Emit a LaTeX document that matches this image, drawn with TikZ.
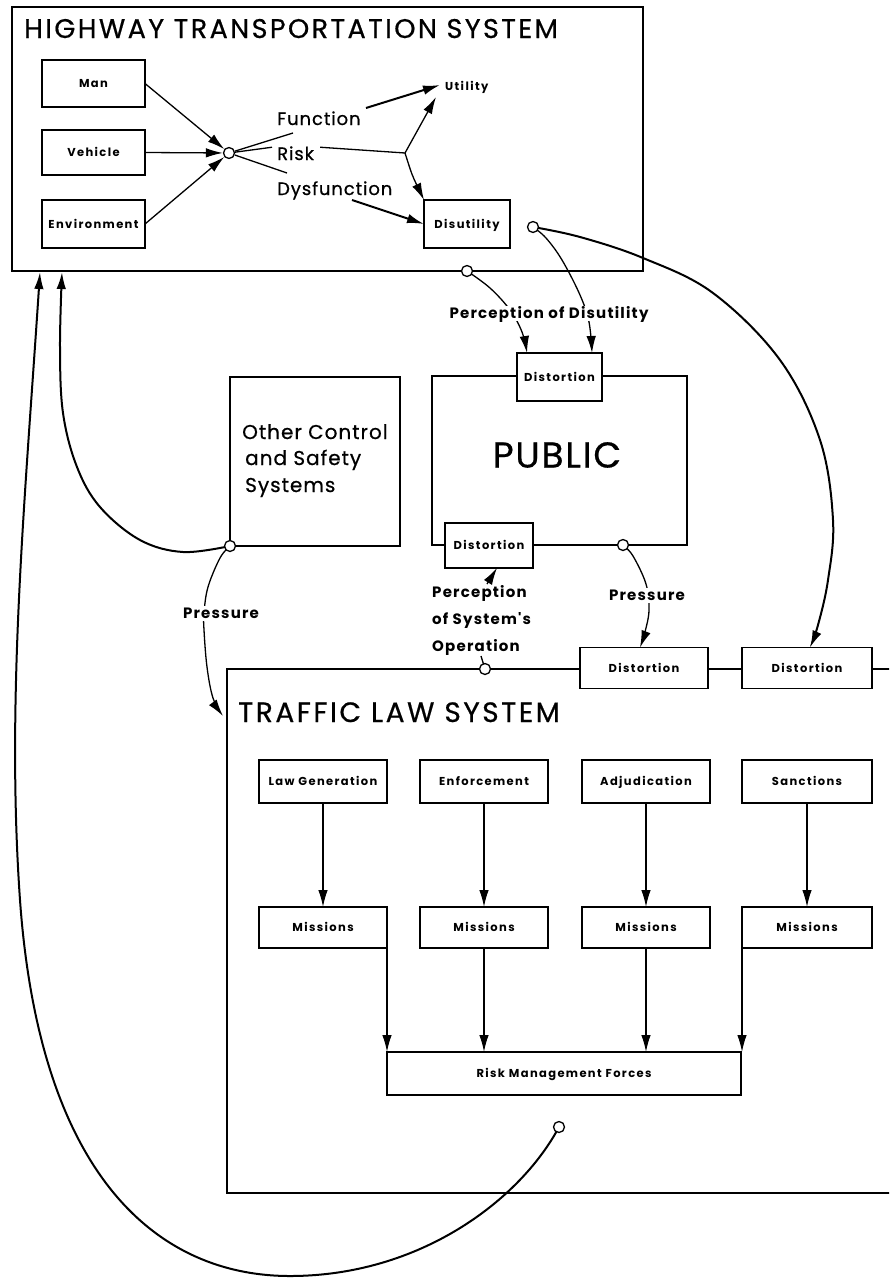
\documentclass[tikz,border=0pt]{standalone}
\usepackage{fontspec}
\setmainfont{Poppins}
\newfontfamily\geo[LetterSpace=5,FakeBold=0.6]{Poppins}
\newfontfamily\geowide[LetterSpace=9,FakeBold=0.6]{Poppins}
\newfontfamily\geolab[LetterSpace=8]{Poppins}
\newfontfamily\geobox[LetterSpace=12]{Poppins}
\usetikzlibrary{arrows.meta,calc}

\newcommand\ttlfont{\geowide\fontsize{27}{31}\selectfont}
\newcommand\tlsfont{\geowide\fontsize{28}{32}\selectfont}
\newcommand\pubfont{\geo\fontsize{36}{40}\selectfont}
\newcommand\midfont{\geo\fontsize{18}{22}\selectfont}
\newcommand\ocsfont{\geo\fontsize{20}{24}\selectfont}
\newcommand\prfont{\geolab\fontsize{15}{18}\selectfont\bfseries}
\newcommand\boxfont{\geobox\fontsize{11.5}{13}\selectfont\bfseries}

\tikzset{
  frame/.style={draw, line width=1.8pt, inner sep=0pt, outer sep=0pt},
  box/.style={draw, line width=1.6pt, fill=white, inner sep=0pt, outer sep=0pt,
    text height=8pt, text depth=0pt, font=\boxfont},
  conn/.style={line width=1.3pt},
  arr/.style={conn, -{Latex[length=17pt,width=9.5pt]}},
  heavy/.style={line width=2pt},
  knot/.style={circle, draw, line width=1.3pt, fill=white,
    minimum size=11pt, inner sep=0pt},
  lbl/.style={inner sep=0pt, font=\midfont},
  cover/.style={fill=white, inner sep=2pt, text height=11pt, text depth=0pt, font=\prfont}
}

\begin{document}
\begin{tikzpicture}[x=1pt,y=-1pt]
\useasboundingbox (0,0) rectangle (889,1282);
\clip (0,0) rectangle (889,1282);

% ---------------- Highway transportation system ----------------
\node[frame, anchor=north west, minimum width=631pt, minimum height=264pt] (hwy) at (12,7) {};
\node[anchor=base west, inner sep=0pt, font=\ttlfont] (hwyt) at (24,38) {HIGHWAY TRANSPORTATION SYSTEM};

\node[box, minimum width=103pt, minimum height=47pt] (man) at (93.5,83.5) {Man};
\node[box, minimum width=103pt, minimum height=45pt] (veh) at (93.5,152.5) {Vehicle};
\node[box, minimum width=103pt, minimum height=48pt] (env) at (93.5,224) {Environment};
\node[knot] (jn) at (229,153) {};

\node[lbl, anchor=base west] (fun) at (277,125) {Function};
\node[lbl, anchor=base west] (risk) at (277,160) {Risk};
\node[lbl, anchor=base west] (dys) at (277,195) {Dysfunction};
\node[anchor=base west, inner sep=0pt, font=\boxfont] (util) at (445,90) {Utility};
\node[box, minimum width=86pt, minimum height=48pt] (dis) at (467,224) {Disutility};

\coordinate (br) at (405,153);
\coordinate (funin) at (293,133);
\coordinate (funout) at (366,108);
\coordinate (utilA) at (440,85);
\coordinate (utilB) at (436,97);
\coordinate (dysin) at (287,173);
\coordinate (dysout) at (352,200);

\draw[arr] (man.east) -- (jn);
\draw[arr] (veh.east) -- (jn);
\draw[arr] (env.east) -- (jn);
\draw[conn] (jn) -- (funin);
\draw[conn] (jn) -- ($(risk.west)+(-5,-6)$);
\draw[conn] (jn) -- (dysin);
\draw[arr, heavy] (funout) -- (utilA);
\draw[conn] ($(risk.east)+(6,-6)$) -- (br);
\draw[arr] (br) -- (utilB);
\draw[arr] (br) .. controls (412,175) .. (dis.north west);
\draw[arr, heavy] (dysout) -- (dis.west);

\coordinate (c1) at (533,227);
\coordinate (c2) at (467,271);

% ---------------- Public ----------------
\node[frame, minimum width=255pt, minimum height=169pt] (pub) at (559.5,460.5) {};
\node[inner sep=0pt, font=\pubfont] (pubt) at (557,455) {PUBLIC};
\node[box, minimum width=85pt, minimum height=48pt] (dtop) at (559.5,377) {Distortion};
\node[box, minimum width=88pt, minimum height=45pt] (dlow) at (489,545.5) {Distortion};
\coordinate (c3) at (623,545);
\coordinate (dtopA) at ($(dtop.north west)+(10,0)$);
\coordinate (dtopB) at ($(dtop.north east)+(-10,0)$);

% ---------------- Other control and safety systems ----------------
\node[frame, minimum width=170pt, minimum height=169pt] (ocs) at (315,461.5) {};
\node[anchor=base west, inner sep=0pt, font=\ocsfont] (ocs1) at (242,439) {Other Control};
\node[anchor=base west, inner sep=0pt, font=\ocsfont] (ocs2) at (245,465) {and Safety};
\node[anchor=base west, inner sep=0pt, font=\ocsfont] (ocs3) at (245,492) {Systems};
\coordinate (c4) at (230,546);

% ---------------- Traffic law system ----------------
\node[frame, anchor=north west, minimum width=700pt, minimum height=524pt] (tls) at (227,669) {};
\node[anchor=base west, inner sep=0pt, font=\tlsfont] (tlst) at (238,722) {TRAFFIC LAW SYSTEM};
\node[box, minimum width=128pt, minimum height=41pt] (d1) at (644,668) {Distortion};
\node[box, minimum width=130pt, minimum height=41pt] (d2) at (807,668) {Distortion};
\coordinate (c5) at (485,669);
\coordinate (c5tick) at (481,656);

\node[box, minimum width=128pt, minimum height=43pt] (lg) at (323,781.5) {Law Generation};
\node[box, minimum width=128pt, minimum height=43pt] (en) at (484,781.5) {Enforcement};
\node[box, minimum width=128pt, minimum height=43pt] (ad) at (646,781.5) {Adjudication};
\node[box, minimum width=130pt, minimum height=43pt] (sa) at (807,781.5) {Sanctions};
\node[box, minimum width=128pt, minimum height=41pt] (m1) at (323,927.5) {Missions};
\node[box, minimum width=128pt, minimum height=41pt] (m2) at (484,927.5) {Missions};
\node[box, minimum width=128pt, minimum height=41pt] (m3) at (646,927.5) {Missions};
\node[box, minimum width=130pt, minimum height=41pt] (m4) at (807,927.5) {Missions};
\node[box, minimum width=354pt, minimum height=43pt] (rmf) at (564,1073.5) {Risk Management Forces};
\coordinate (c6) at (559,1127);

\draw[arr] (lg) -- (m1);
\draw[arr] (en) -- (m2);
\draw[arr] (ad) -- (m3);
\draw[arr] (sa) -- (m4);
\draw[arr] (m1.south east) -- (m1.south east |- rmf.north);
\draw[arr] (m2.south) -- (m2.south |- rmf.north);
\draw[arr] (m3.south) -- (m3.south |- rmf.north);
\draw[arr] (m4.south west) -- (m4.south west |- rmf.north);

% ---------------- Feedback connectors ----------------
\coordinate (hwA) at (40,272);
\coordinate (hwB) at (62,272);
\coordinate (tlin) at (223,716);

% other systems back to the highway system
\draw[arr, heavy] plot[smooth, tension=0.6] coordinates
  {(c4) (183,552) (140,540) (100,507) (77,467) (63,413) (60,347) (hwB)};
% other systems pressure on the traffic law system
\draw[arr] plot[smooth, tension=0.6] coordinates
  {(c4) (220,558) (208,587) (204,613) (204,630) (207,667) (213,698) (tlin)};
\node[cover] (prl) at (221,613) {Pressure};

% perception of disutility
\draw[arr] plot[smooth, tension=0.6] coordinates
  {(c2) (490,288) (510,310) (522,332) (dtopA)};
\draw[arr] plot[smooth, tension=0.6] coordinates
  {(c1) (546,238) (562,260) (580,295) (589,322) (dtopB)};
\node[cover] (pod) at (549,313) {Perception of Disutility};

% public pressure
\draw[arr] plot[smooth, tension=0.6] coordinates
  {(c3) (633,556) (646,584) (649,610) (645,632) ($(d1.north)+(-4,0)$)};
\node[cover] (prm) at (647,595) {Pressure};

% perception of the system's operation
\node[anchor=base west, inner sep=0pt, font=\prfont] (pso1) at (432,597) {Perception};
\node[anchor=base west, inner sep=0pt, font=\prfont] (pso2) at (432,624) {of System's};
\node[anchor=base west, inner sep=0pt, font=\prfont] (pso3) at (432,651) {Operation};
\coordinate (psoA) at (487,584);
\draw[arr] (psoA) -- ($(dlow.south)+(8,0)$);
\draw[conn] (c5tick) -- (c5);

% disutility straight to the traffic law system
\draw[arr, heavy] plot[smooth, tension=0.6] coordinates
  {(c1) (580,237) (643,258) (713,293) (780,360) (820,440) (833,520) (828,580) (818,625) ($(d2.north)+(3,0)$)};

% risk management forces back to the highway system
\draw[arr, heavy] (c6) .. controls (520,1200) and (420,1276) .. (290,1276)
  .. controls (160,1276) and (40,1180) .. (20,900)
  .. controls (6,700) and (25,500) .. (hwA);

% small open junction circles
\foreach \k in {c1,c2,c3,c4,c5,c6} \node[knot] at (\k) {};
\end{tikzpicture}
\end{document}
